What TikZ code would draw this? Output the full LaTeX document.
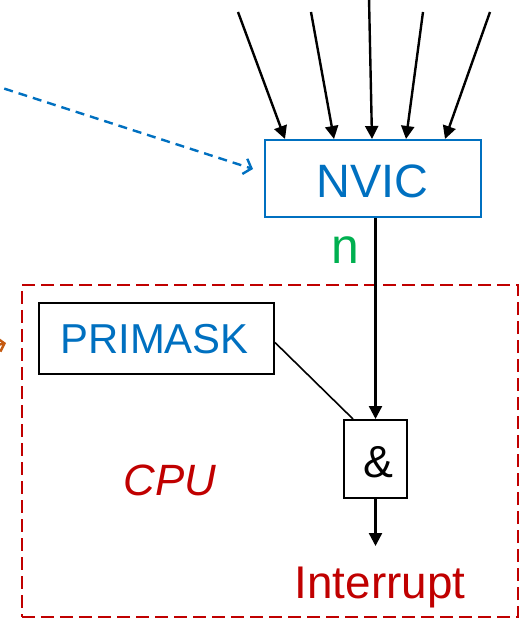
\documentclass[tikz,border=0pt]{standalone}
\usepackage{fontspec}
\setmainfont{Liberation Sans}
\usetikzlibrary{arrows.meta,calc}
\definecolor{nvblue}{RGB}{0,112,192}
\definecolor{cpured}{RGB}{192,0,0}
\definecolor{ngreen}{RGB}{0,176,80}
\definecolor{brown}{RGB}{197,90,17}
\tikzset{
  box/.style={draw, line width=2bp, inner sep=0pt},
  lbl/.style={anchor=base, inner sep=0pt},
  arr/.style={line width=2.4bp, -{Triangle[length=13bp,width=13bp]}},
  openarr/.style={line width=2.4bp, dash pattern=on 9bp off 6bp, -{Straight Barb[length=7bp,width=16bp]}},
}
\begin{document}
\begin{tikzpicture}[x=1bp,y=-1bp]
\useasboundingbox (0,0) rectangle (519,620);
% CPU dashed region
\node[draw=cpured, line width=2bp, dash pattern=on 13bp off 6bp, minimum width=496bp, minimum height=332bp, inner sep=0pt] (cpu) at (270,451) {};
% boxes
\node[box, draw=nvblue, minimum width=216bp, minimum height=77bp] (nvic) at (373,178.5) {};
\node[box, minimum width=235bp, minimum height=71bp] (primask) at (156.5,338.5) {};
\node[box, minimum width=63bp, minimum height=78bp] (and) at (375.5,459) {};
% texts
\node[lbl, text=nvblue, font=\fontsize{47}{50}\selectfont] (nviclbl) at (372.5,197) {NVIC};
\node[lbl, text=nvblue, font=\fontsize{42}{50}\selectfont] (primlbl) at (154.5,353) {PRIMASK};
\node[lbl, font=\fontsize{45}{50}\selectfont] (andlbl) at (378,477) {\&};
\node[lbl, text=ngreen, font=\fontsize{50}{56}\selectfont] (n) at (345,263) {n};
\node[lbl, text=cpured, font=\fontsize{44}{50}\selectfont\itshape] (cpulbl) at (170,495) {CPU};
\node[lbl, text=cpured, font=\fontsize{46}{50}\selectfont] (intr) at (380,598) {Interrupt};
% top inputs
\coordinate (s1) at (238,12);
\coordinate (s2) at (311,12);
\coordinate (s3) at (369,-2);
\coordinate (s4) at (423,12);
\coordinate (s5) at (490,12);
\draw[arr] (s1) -- ($(nvic.north west)+(21,0)$);
\draw[arr] (s2) -- ($(nvic.north west)+(70,0)$);
\draw[arr] (s3) -- ($(nvic.north west)+(108,0)$);
\draw[arr] (s4) -- ($(nvic.north west)+(142,0)$);
\draw[arr] (s5) -- ($(nvic.north west)+(181,0)$);
% blue dashed arrow from left
\coordinate (bs) at (-10,84);
\coordinate (be) at (253,169);
\draw[openarr, draw=nvblue] (bs) -- (be);
% brown arrow from left (off image)
\coordinate (os) at (-30,352);
\coordinate (oe) at (6,343);
\draw[line width=2.4bp, draw=brown, -{Straight Barb[length=6bp,width=14bp]}] (os) -- (oe);
% NVIC to AND
\draw[arr] (nvic.south -| and.north) -- (and.north);
% PRIMASK to AND
\draw[line width=1.6bp] ($(primask.east)+(0,4)$) -- ($(and.north west)+(10,0)$);
% AND to output
\coordinate (out) at (375.5,546);
\draw[arr] (and.south) -- (out);
\end{tikzpicture}
\end{document}
